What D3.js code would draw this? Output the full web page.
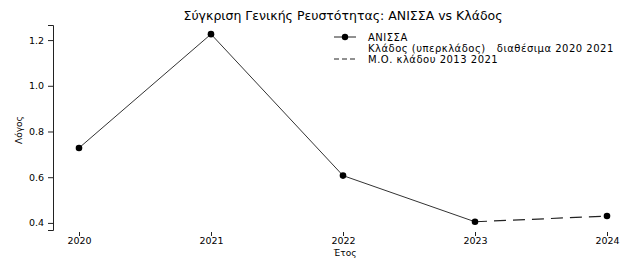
<!DOCTYPE html>
<html><head><meta charset="utf-8">
<script src="https://cdn.jsdelivr.net/npm/d3@7"></script>
<style>body{margin:0;background:#fff}svg{display:block}text{font-family:"DejaVu Sans",sans-serif;fill:#000}</style>
</head><body><svg id="c" width="624" height="258"></svg>
<script>
const years = [2020, 2021, 2022, 2023, 2024];
const anissa = [0.728, 1.226, 0.607, 0.405, null];
const sectorAvg = [null, null, null, 0.405, 0.430];
const yTicks = [0.4, 0.6, 0.8, 1.0, 1.2];
const legendLabels = ["ΑΝΙΣΣΑ", "Κλάδος (υπερκλάδος)   διαθέσιμα 2020 2021", "Μ.Ο. κλάδου 2013 2021"];
const title = "Σύγκριση Γενικής Ρευστότητας: ΑΝΙΣΣΑ vs Κλάδος";

const svg = d3.select("#c");
const x = d3.scaleLinear().domain([2020, 2024]).range([79, 607]);
const y = d3.scaleLinear().domain([0.369, 1.266]).range([230, 25]);

// y axis
const ya = svg.append("g").attr("transform","translate(53,0)")
  .call(d3.axisLeft(y).tickValues(yTicks).tickFormat(d3.format(".1f")).tickSize(5).tickPadding(4));
ya.selectAll("text").style("font-size","9.5px").style("font-family","DejaVu Sans");
ya.selectAll("path,line").attr("stroke","#222").attr("stroke-width",1);

// x axis (ticks only)
const xa = svg.append("g").attr("transform","translate(0,232)")
  .call(d3.axisBottom(x).tickValues(years).tickFormat(d3.format("d")).tickSize(4).tickPadding(1));
xa.select(".domain").remove();
xa.selectAll("text").style("font-size","9.5px").style("font-family","DejaVu Sans");
xa.selectAll("line").attr("stroke","#222");

const line = d3.line().defined(d=>d[1]!=null).x(d=>x(d[0])).y(d=>y(d[1]));
svg.append("path").datum(years.map((yr,i)=>[yr,anissa[i]]))
  .attr("d",line).attr("fill","none").attr("stroke","#333").attr("stroke-width",1);
svg.append("path").datum(years.map((yr,i)=>[yr,sectorAvg[i]]))
  .attr("d",line).attr("fill","none").attr("stroke","#222").attr("stroke-width",1.2).attr("stroke-dasharray","12,7");

const pts = years.map((yr,i)=>[yr, anissa[i]!=null?anissa[i]:sectorAvg[i]]);
svg.selectAll("circle.p").data(pts).join("circle").attr("class","p")
  .attr("cx",d=>x(d[0])).attr("cy",d=>y(d[1])).attr("r",3.3).attr("fill","#000");

// title and labels
svg.append("text").attr("x",343).attr("y",20).attr("text-anchor","middle").style("font-size","12.5px").text(title);
svg.append("text").attr("x",345).attr("y",256).attr("text-anchor","middle").style("font-size","9px").text("Έτος");
svg.append("text").attr("transform","translate(22,130) rotate(-90)").attr("text-anchor","middle").style("font-size","9px").text("Λόγος");

// legend
const lg = svg.append("g");
const rows = [37, 48, 59];
lg.append("line").attr("x1",334).attr("x2",356).attr("y1",rows[0]).attr("y2",rows[0]).attr("stroke","#222");
lg.append("circle").attr("cx",345).attr("cy",rows[0]).attr("r",3.2).attr("fill","#000");
lg.append("line").attr("x1",334).attr("x2",357).attr("y1",rows[2]).attr("y2",rows[2]).attr("stroke","#222").attr("stroke-dasharray","5,3");
legendLabels.forEach((t,i)=>{
  lg.append("text").attr("x",368).attr("y",rows[i]+3.5).style("font-size","10px").style("letter-spacing","0.5px").attr("xml:space","preserve").style("white-space","pre").text(t);
});
</script></body></html>
